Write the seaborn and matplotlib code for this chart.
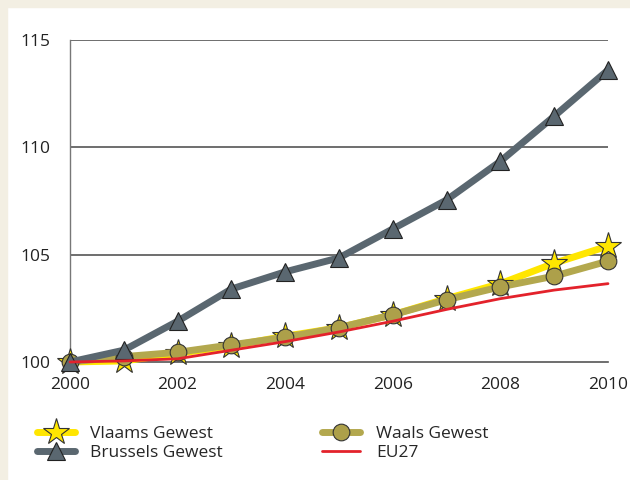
import matplotlib
matplotlib.use("Agg")
import matplotlib.pyplot as plt
import matplotlib.patches as mpatches
import seaborn as sns
import pandas as pd

years = [2000, 2001, 2002, 2003, 2004, 2005, 2006, 2007, 2008, 2009, 2010]
vlaams = [100.0, 100.05, 100.4, 100.75, 101.2, 101.6, 102.2, 102.95, 103.65, 104.6, 105.4]
brussels = [100.0, 100.55, 101.9, 103.4, 104.2, 104.85, 106.2, 107.55, 109.35, 111.45, 113.6]
waals = [100.0, 100.25, 100.45, 100.8, 101.15, 101.6, 102.2, 102.9, 103.5, 104.0, 104.7]
eu27 = [100.0, 100.05, 100.15, 100.55, 100.95, 101.4, 101.9, 102.45, 102.95, 103.35, 103.65]

df = pd.DataFrame({"jaar": years, "Vlaams Gewest": vlaams, "Brussels Gewest": brussels,
                   "Waals Gewest": waals, "EU27": eu27})

sns.set_style("white")
plt.rcParams["font.family"] = ["Open Sans", "DejaVu Sans"]

fig = plt.figure(figsize=(6.3, 4.8), dpi=100, facecolor="white")
# beige frame strips (left and top)
fig.patches.append(mpatches.Rectangle((0, 0), 7 / 630, 1, transform=fig.transFigure,
                                      color="#F3EFE3", zorder=0))
fig.patches.append(mpatches.Rectangle((0, 1 - 7 / 480), 1, 7 / 480, transform=fig.transFigure,
                                      color="#F3EFE3", zorder=0))

ax = fig.add_axes([70 / 630, 1 - 362 / 480, 538 / 630, 322 / 480])
ax.set_facecolor("none")

sns.lineplot(data=df, x="jaar", y="Vlaams Gewest", ax=ax, color="#FFE600", linewidth=5,
             marker="*", markersize=20, markerfacecolor="#FFE600", markeredgecolor="#333333",
             markeredgewidth=0.8, label="Vlaams Gewest", zorder=3, clip_on=False)
sns.lineplot(data=df, x="jaar", y="Waals Gewest", ax=ax, color="#B3A84E", linewidth=5,
             marker="o", markersize=12, markerfacecolor="#ADA04A", markeredgecolor="#333333",
             markeredgewidth=0.8, label="Waals Gewest", zorder=4, clip_on=False)
sns.lineplot(data=df, x="jaar", y="Brussels Gewest", ax=ax, color="#5A6770", linewidth=5,
             marker="^", markersize=13, markerfacecolor="#5A6770", markeredgecolor="#222222",
             markeredgewidth=0.8, label="Brussels Gewest", zorder=5, clip_on=False)
sns.lineplot(data=df, x="jaar", y="EU27", ax=ax, color="#E3222B", linewidth=2,
             label="EU27", zorder=6, clip_on=False)

ax.set_xlim(2000, 2010)
ax.set_ylim(100, 115)
ax.set_yticks([100, 105, 110, 115])
ax.set_xticks(years)
ax.set_xticklabels([str(y) if y % 2 == 0 else "" for y in years])
ax.set_xlabel("")
ax.set_ylabel("")
for yv in [105, 110, 115]:
    ax.axhline(yv, color="#555555", linewidth=1.2, zorder=1)

for s in ["top", "right"]:
    ax.spines[s].set_visible(False)
ax.spines["left"].set_color("#777777")
ax.spines["bottom"].set_color("#555555")
ax.spines["left"].set_linewidth(1)
ax.spines["bottom"].set_linewidth(1.2)
ax.tick_params(axis="x", direction="in", length=10, width=1, color="#555555",
               labelsize=12.5, pad=11, labelcolor="#222222")
ax.tick_params(axis="y", length=0, labelsize=12.5, pad=14, labelcolor="#222222")

handles, labels = ax.get_legend_handles_labels()
order = ["Vlaams Gewest", "Brussels Gewest", "Waals Gewest", "EU27"]
hmap = dict(zip(labels, handles))
ax.legend([hmap[k] for k in order], order, ncol=2, frameon=False, fontsize=12.5,
          loc="upper left", bbox_to_anchor=(21 / 630, 1 - 410 / 480),
          bbox_transform=fig.transFigure, handlelength=2.2, columnspacing=5.7,
          labelspacing=0.2, handletextpad=0.9)

fig.savefig("out.png", dpi=100, facecolor="white")
